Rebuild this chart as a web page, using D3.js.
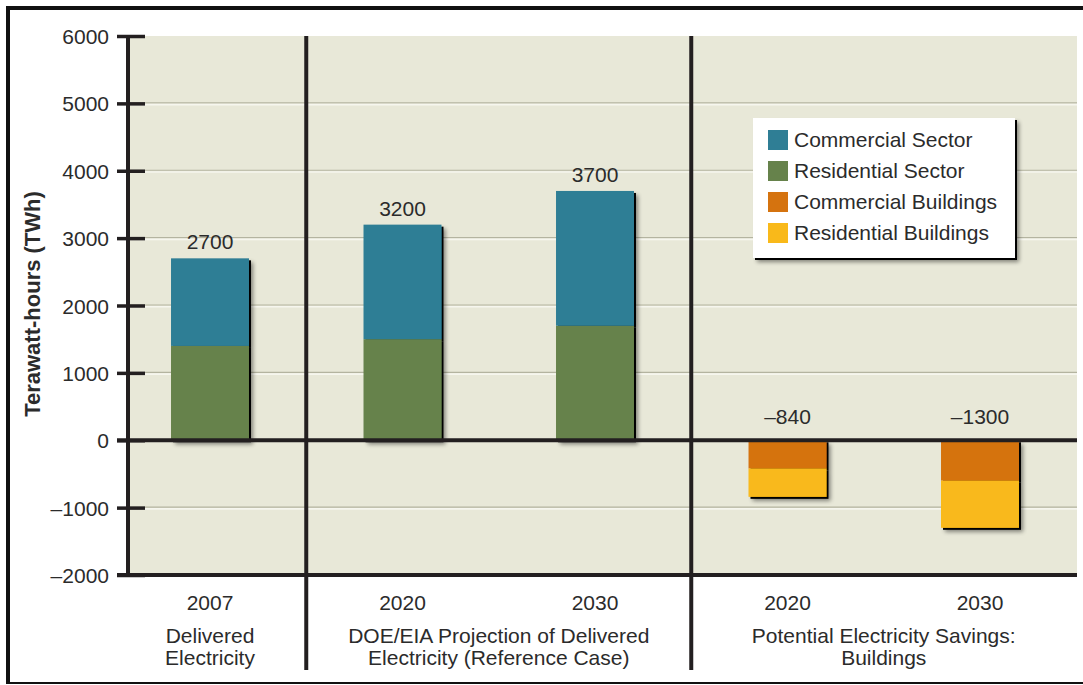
<!DOCTYPE html>
<html>
<head>
<meta charset="utf-8">
<script src="https://cdn.jsdelivr.net/npm/d3@7"></script>
<style>
  html, body { margin: 0; padding: 0; background: #ffffff; }
  svg { display: block; }
  text { font-family: "Liberation Sans", Arial, Helvetica, sans-serif; fill: #2b2b2b; }
</style>
</head>
<body>
<svg id="chart" width="1083" height="685"></svg>
<script>
// Electricity delivered to buildings and potential savings (TWh)
const barKeys = ["del2007", "proj2020", "proj2030", "sav2020", "sav2030"];
const yearLabels = ["2007", "2020", "2030", "2020", "2030"];
const residentialSector = [1400, 1500, 1700, 0, 0];
const commercialSector = [1300, 1700, 2000, 0, 0];
const commercialBuildings = [0, 0, 0, -420, -600];
const residentialBuildings = [0, 0, 0, -420, -700];
const yTicks = [-2000, -1000, 0, 1000, 2000, 3000, 4000, 5000, 6000];
const groupLabels = [
  { lines: ["Delivered", "Electricity"], from: 0, to: 0 },
  { lines: ["DOE/EIA Projection of Delivered", "Electricity (Reference Case)"], from: 1, to: 2 },
  { lines: ["Potential Electricity Savings:", "Buildings"], from: 3, to: 4 }
];
const legendItems = ["Commercial Sector", "Residential Sector", "Commercial Buildings", "Residential Buildings"];
const colors = {
  commercialSector: "#2f7e95",
  residentialSector: "#66824b",
  commercialBuildings: "#d5730f",
  residentialBuildings: "#f9b91a"
};
const legendColors = [colors.commercialSector, colors.residentialSector, colors.commercialBuildings, colors.residentialBuildings];

const fmt = v => (v < 0 ? "\u2013" + Math.abs(v) : String(v));

const svg = d3.select("#chart");
const plot = { left: 128, right: 1077, top: 36, bottom: 575 };

const y = d3.scaleLinear().domain([-2000, 6000]).range([plot.bottom, plot.top]);
const x = d3.scaleBand().domain(barKeys).range([113.75, 1076.25]).paddingInner(0.595).paddingOuter(0.2975);
const cx = k => x(k) + x.bandwidth() / 2;

// drop shadow used by bars and legend
const defs = svg.append("defs");
const f = defs.append("filter").attr("id", "shadow").attr("x", "-20%").attr("y", "-20%").attr("width", "150%").attr("height", "150%");
f.append("feOffset").attr("in", "SourceAlpha").attr("dx", 4).attr("dy", 4).attr("result", "o1");
f.append("feGaussianBlur").attr("in", "o1").attr("stdDeviation", 2).attr("result", "b1");
f.append("feComponentTransfer").attr("in", "b1").attr("result", "soft")
  .append("feFuncA").attr("type", "linear").attr("slope", 0.45);
f.append("feOffset").attr("in", "SourceAlpha").attr("dx", 2).attr("dy", 2).attr("result", "hard");
const m = f.append("feMerge");
m.append("feMergeNode").attr("in", "soft");
m.append("feMergeNode").attr("in", "hard");
m.append("feMergeNode").attr("in", "SourceGraphic");

// outer frame
svg.append("line").attr("x1", 6).attr("x2", 1083).attr("y1", 8).attr("y2", 8).attr("stroke", "#111").attr("stroke-width", 4);
svg.append("line").attr("x1", 8).attr("x2", 8).attr("y1", 6).attr("y2", 684).attr("stroke", "#111").attr("stroke-width", 4);
svg.append("line").attr("x1", 6).attr("x2", 1083).attr("y1", 683).attr("y2", 683).attr("stroke", "#111").attr("stroke-width", 2);

// plot background
svg.append("rect").attr("x", plot.left).attr("y", plot.top)
  .attr("width", plot.right - plot.left).attr("height", plot.bottom - plot.top)
  .attr("fill", "#e8e8d8");

// embossed gridlines
const gridVals = yTicks.filter(v => v !== 0 && v !== -2000 && v !== 6000);
svg.append("g").selectAll("line.g1").data(gridVals).join("line")
  .attr("x1", plot.left).attr("x2", plot.right)
  .attr("y1", d => y(d) - 0.5).attr("y2", d => y(d) - 0.5)
  .attr("stroke", "#b4b4a0").attr("stroke-width", 1.2);
svg.append("g").selectAll("line.g2").data(gridVals).join("line")
  .attr("x1", plot.left).attr("x2", plot.right)
  .attr("y1", d => y(d) + 1.2).attr("y2", d => y(d) + 1.2)
  .attr("stroke", "#f6f6ee").attr("stroke-width", 1.6);

// group separators
const seps = [ (cx(barKeys[0]) + cx(barKeys[1])) / 2, (cx(barKeys[2]) + cx(barKeys[3])) / 2 ];
svg.append("g").selectAll("line").data(seps).join("line")
  .attr("x1", d => d).attr("x2", d => d).attr("y1", plot.top).attr("y2", 670)
  .attr("stroke", "#231f20").attr("stroke-width", 4);

// stacked bars
const barData = barKeys.map((k, i) => {
  const segs = [];
  let pos = 0, neg = 0;
  [["residentialSector", residentialSector[i]], ["commercialSector", commercialSector[i]],
   ["commercialBuildings", commercialBuildings[i]], ["residentialBuildings", residentialBuildings[i]]]
    .forEach(([name, v]) => {
      if (v > 0) { segs.push({ name, y0: pos, y1: pos + v }); pos += v; }
      else if (v < 0) { segs.push({ name, y0: neg, y1: neg + v }); neg += v; }
    });
  const total = residentialSector[i] + commercialSector[i] + commercialBuildings[i] + residentialBuildings[i];
  return { key: k, segs, total };
});

const bars = svg.append("g").selectAll("g.bar").data(barData).join("g")
  .attr("class", "bar").attr("filter", "url(#shadow)");
bars.selectAll("rect").data(d => d.segs.map(s => ({ ...s, key: d.key }))).join("rect")
  .attr("x", d => x(d.key))
  .attr("width", x.bandwidth())
  .attr("y", d => y(Math.max(d.y0, d.y1)))
  .attr("height", d => Math.abs(y(d.y0) - y(d.y1)))
  .attr("fill", d => colors[d.name]);

// value labels
svg.append("g").selectAll("text").data(barData).join("text")
  .attr("x", d => cx(d.key))
  .attr("y", d => d.total >= 0 ? y(d.total) - 9 : y(0) - 16)
  .attr("text-anchor", "middle").attr("font-size", 21)
  .text(d => fmt(d.total));

// zero line and bottom axis line
svg.append("line").attr("x1", 117).attr("x2", plot.right).attr("y1", y(0)).attr("y2", y(0))
  .attr("stroke", "#231f20").attr("stroke-width", 4);
svg.append("line").attr("x1", 117).attr("x2", plot.right).attr("y1", plot.bottom).attr("y2", plot.bottom)
  .attr("stroke", "#231f20").attr("stroke-width", 4);

// y axis
const yAxis = svg.append("g").attr("transform", `translate(${plot.left},0)`)
  .call(d3.axisLeft(y).tickValues(yTicks).tickFormat(fmt).tickSize(11).tickPadding(8));
yAxis.select(".domain").remove();
yAxis.selectAll(".tick line").attr("x1", 17).attr("x2", -11).attr("stroke", "#231f20").attr("stroke-width", 3.5);
yAxis.selectAll(".tick text").attr("font-size", 21).attr("font-family", null).attr("fill", "#2b2b2b").attr("dy", "0.36em");
svg.append("line").attr("x1", plot.left).attr("x2", plot.left).attr("y1", plot.top).attr("y2", plot.bottom + 2)
  .attr("stroke", "#231f20").attr("stroke-width", 4);

// y axis title
svg.append("text").attr("transform", "translate(40,304) rotate(-90)")
  .attr("text-anchor", "middle").attr("font-size", 22).attr("font-weight", "bold")
  .text("Terawatt-hours (TWh)");

// x axis year labels
const xAxis = svg.append("g").attr("transform", `translate(0,${plot.bottom})`)
  .call(d3.axisBottom(x).tickSize(0).tickPadding(0).tickFormat((k, i) => yearLabels[i]));
xAxis.select(".domain").remove();
xAxis.selectAll(".tick text").attr("font-size", 21).attr("font-family", null).attr("fill", "#2b2b2b")
  .attr("y", 35).attr("dy", 0);

// group labels
const gl = svg.append("g").selectAll("text").data(groupLabels).join("text")
  .attr("text-anchor", "middle").attr("font-size", 21)
  .attr("x", d => (cx(barKeys[d.from]) + cx(barKeys[d.to])) / 2);
gl.selectAll("tspan").data(d => d.lines.map(l => ({ l, x: (cx(barKeys[d.from]) + cx(barKeys[d.to])) / 2 }))).join("tspan")
  .attr("x", d => d.x).attr("y", (d, i) => 643 + i * 22).text(d => d.l);

// legend
const lg = svg.append("g").attr("transform", "translate(753,118)");
lg.append("rect").attr("width", 262).attr("height", 140).attr("fill", "#ffffff").attr("filter", "url(#shadow)");
const li = lg.selectAll("g.item").data(legendItems).join("g").attr("class", "item")
  .attr("transform", (d, i) => `translate(15,${22 + i * 31})`);
li.append("rect").attr("y", -10).attr("width", 20).attr("height", 20).attr("fill", (d, i) => legendColors[i]);
li.append("text").attr("x", 26).attr("y", 7).attr("font-size", 21).text(d => d);
</script>
</body>
</html>
